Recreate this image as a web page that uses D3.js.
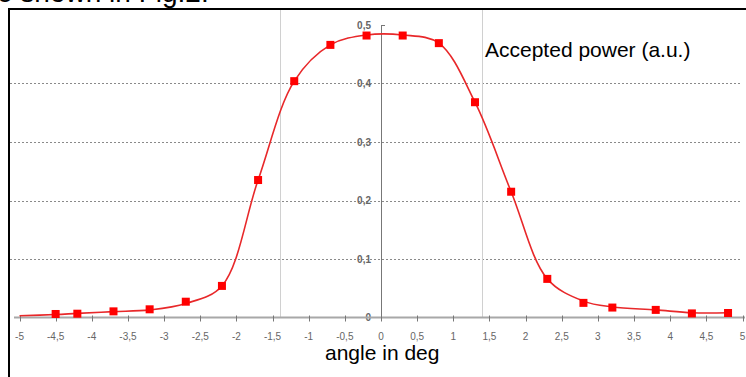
<!DOCTYPE html>
<html>
<head>
<meta charset="utf-8">
<script src="https://cdn.jsdelivr.net/npm/d3@7/dist/d3.min.js"></script>
<style>
  html, body { margin: 0; padding: 0; background: #fff; }
  svg { display: block; }
  text { font-family: "Liberation Sans", Arial, sans-serif; }
</style>
</head>
<body>
<div id="chart"></div>
<script>
// measured points (angle in deg, accepted power a.u.)
const angle = [-4.5, -4.2, -3.7, -3.2, -2.7, -2.2, -1.7, -1.2, -0.7, -0.2,
               0.3, 0.8, 1.3, 1.8, 2.3, 2.8, 3.2, 3.8, 4.3, 4.8]
const power = [0.006, 0.0065, 0.0105, 0.014, 0.027, 0.054, 0.235, 0.404, 0.466, 0.482,
               0.482, 0.469, 0.368, 0.215, 0.066, 0.025, 0.017, 0.013, 0.007, 0.0077]

// fitted curve as drawn in the figure
const fitAngle = [-5, -4.5, -4.2, -3.7, -3.2, -2.7, -2.2, -1.7, -1.2, -0.7, -0.2,
                  0.3, 0.8, 1.3, 1.8, 2.3, 2.8, 3.2, 3.8, 4.3, 4.8]
const fitPower = [0.003, 0.005, 0.007, 0.010, 0.013, 0.024, 0.054, 0.235, 0.404, 0.466, 0.483,
                  0.483, 0.469, 0.368, 0.215, 0.066, 0.028, 0.018, 0.013, 0.008, 0.008]

const xTicks = d3.range(-5, 5.01, 0.5)
const yTicks = [0, 0.1, 0.2, 0.3, 0.4, 0.5]
const gridY = [0.1, 0.2, 0.3, 0.4]
const markerLines = [-1.4, 1.4]

const width = 746, height = 377

const locale = d3.formatLocale({ decimal: ",", thousands: ".", grouping: [3], currency: ["", ""], minus: "-" })
const fmt = locale.format("~f")

const x = d3.scaleLinear().domain([-5, 5]).range([19.5, 742.5])
const y = d3.scaleLinear().domain([0, 0.5]).range([317.5, 25])

const svg = d3.select("#chart").append("svg")
  .attr("width", width)
  .attr("height", height)

// caption fragment cut at the top of the picture
svg.append("text")
  .attr("x", -3).attr("y", 1.5)
  .attr("font-size", 28)
  .attr("fill", "#000")
  .text("e shown in Fig.2.")

// horizontal dotted grid
svg.append("g").selectAll("line")
  .data(gridY)
  .join("line")
    .attr("x1", 10).attr("x2", 742)
    .attr("y1", d => Math.round(y(d)) + 0.5)
    .attr("y2", d => Math.round(y(d)) + 0.5)
    .attr("stroke", "#8a8a8a")
    .attr("stroke-width", 1)
    .attr("stroke-dasharray", "2,2")

// vertical lines at +-1.4 deg
svg.append("g").selectAll("line")
  .data(markerLines)
  .join("line")
    .attr("x1", d => Math.round(x(d)) + 0.5)
    .attr("x2", d => Math.round(x(d)) + 0.5)
    .attr("y1", 10).attr("y2", y(0))
    .attr("stroke", "#d0d0d0")
    .attr("stroke-width", 1)

// legend label with white box
svg.append("rect")
  .attr("x", 484).attr("y", 37)
  .attr("width", 216).attr("height", 31)
  .attr("fill", "#fff")
svg.append("text")
  .attr("x", 485).attr("y", 56.5)
  .attr("font-size", 21)
  .attr("fill", "#000")
  .text("Accepted power (a.u.)")

// y axis
const yAxis = svg.append("g")
yAxis.append("line")
  .attr("x1", x(0) + 0.5).attr("x2", x(0) + 0.5)
  .attr("y1", y(0.5)).attr("y2", y(0))
  .attr("stroke", "#777")
yAxis.append("line")
  .attr("x1", x(0)).attr("x2", x(0) + 4)
  .attr("y1", y(0.5) + 0.5).attr("y2", y(0.5) + 0.5)
  .attr("stroke", "#777")
yAxis.selectAll("text")
  .data(yTicks)
  .join("text")
    .attr("x", x(0) - 10)
    .attr("y", d => y(d) + 3.5)
    .attr("text-anchor", "end")
    .attr("font-size", 10)
    .attr("font-weight", "bold")
    .attr("fill", "#666")
    .text(d => fmt(d))

// x axis
const xAxis = svg.append("g")
xAxis.append("line")
  .attr("x1", 14).attr("x2", 745)
  .attr("y1", y(0)).attr("y2", y(0))
  .attr("stroke", "#a8a8a8")
  .attr("stroke-width", 2)
xAxis.selectAll(".tick")
  .data(xTicks)
  .join("line")
    .attr("class", "tick")
    .attr("x1", d => Math.round(x(d)) + 0.5)
    .attr("x2", d => Math.round(x(d)) + 0.5)
    .attr("y1", y(0) - 2).attr("y2", y(0) + 4)
    .attr("stroke", "#777")
xAxis.selectAll("text")
  .data(xTicks)
  .join("text")
    .attr("x", d => x(d))
    .attr("y", 339.5)
    .attr("text-anchor", "middle")
    .attr("font-size", 10)
    .attr("fill", "#666")
    .text(d => fmt(d))

svg.append("text")
  .attr("x", 325).attr("y", 360)
  .attr("font-size", 21)
  .attr("fill", "#000")
  .text("angle in deg")

// fitted curve
const line = d3.line()
  .x((d, i) => x(fitAngle[i]))
  .y(d => y(d))
  .curve(d3.curveCatmullRom.alpha(0.5))

svg.append("path")
  .datum(fitPower)
  .attr("d", line)
  .attr("fill", "none")
  .attr("stroke", "#e8282a")
  .attr("stroke-width", 1.6)

// square markers
const s = 8
svg.append("g").selectAll("rect")
  .data(power)
  .join("rect")
    .attr("x", (d, i) => x(angle[i]) - s / 2)
    .attr("y", d => y(d) - s / 2)
    .attr("width", s).attr("height", s)
    .attr("fill", "#ff0000")

// frame (top and left edges)
svg.append("path")
  .attr("d", "M9,377V9H746")
  .attr("fill", "none")
  .attr("stroke", "#000")
  .attr("stroke-width", 2)
</script>
</body>
</html>
